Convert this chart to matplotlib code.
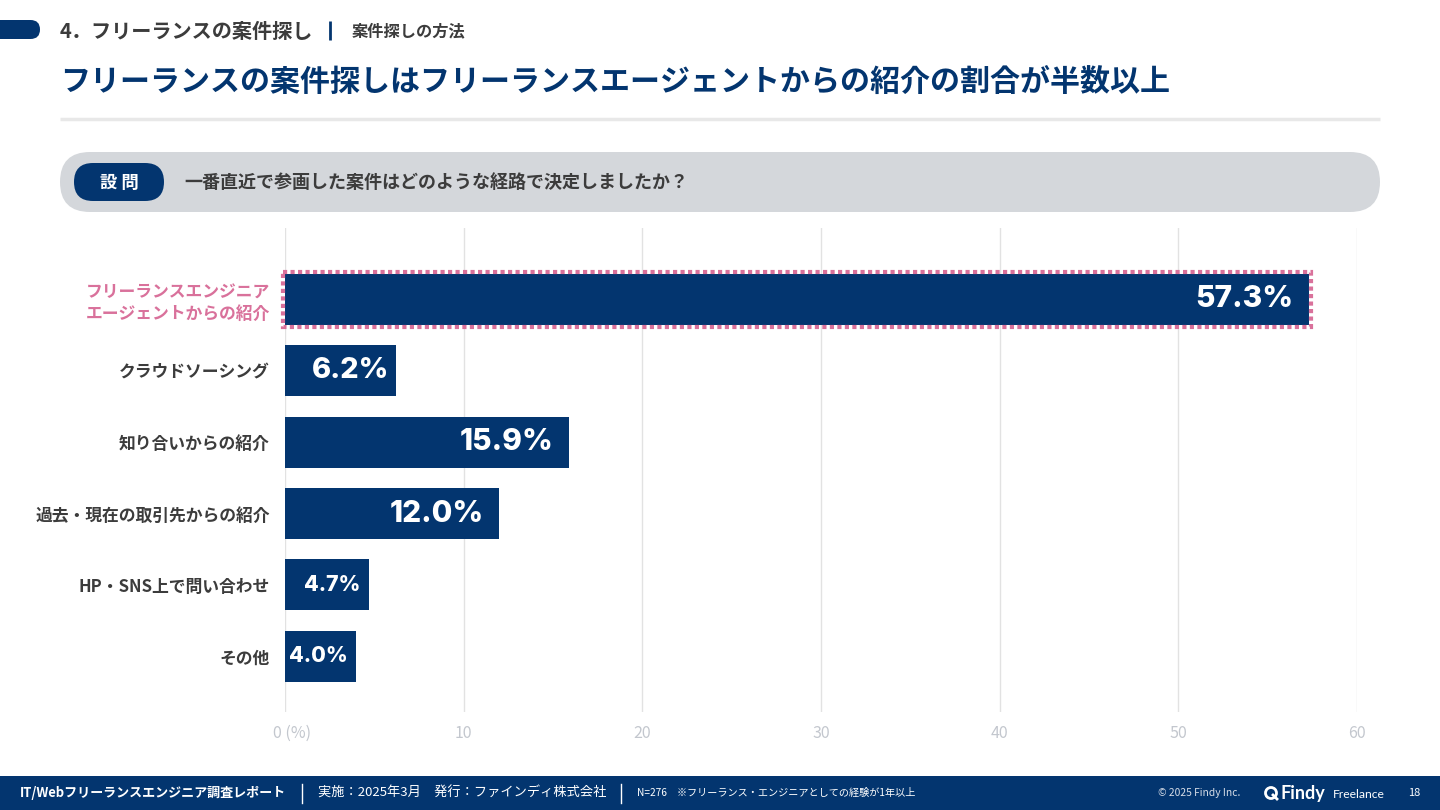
import matplotlib
matplotlib.use('Agg')
import matplotlib.pyplot as plt
import matplotlib.transforms as mtransforms
from matplotlib.patches import FancyBboxPatch, Rectangle, Circle

# ---------------- data ----------------
categories = ['フリーランスエンジニア\nエージェントからの紹介', 'クラウドソーシング', '知り合いからの紹介',
              '過去・現在の取引先からの紹介', 'HP・SNS上で問い合わせ', 'その他']
values = [57.3, 6.2, 15.9, 12.0, 4.7, 4.0]
value_labels = ['57.3%', '6.2%', '15.9%', '12.0%', '4.7%', '4.0%']
xticks = [0, 10, 20, 30, 40, 50, 60]
xtick_labels = ['0 (%)', '10', '20', '30', '40', '50', '60']
highlight_index = 0

section_text = '4．フリーランスの案件探し'
subsection_text = '案件探しの方法'
title_text = 'フリーランスの案件探しはフリーランスエージェントからの紹介の割合が半数以上'
question_tag = '設 問'
question_text = '一番直近で参画した案件はどのような経路で決定しましたか？'
footer_report = 'IT/Webフリーランスエンジニア調査レポート'
footer_info = '実施：2025年3月　発行：ファインディ株式会社'
footer_note = 'N=276　※フリーランス・エンジニアとしての経験が1年以上'
footer_copy = '© 2025 Findy Inc.'
page_no = '18'

# ---------------- style ----------------
NAVY = '#03356F'
PINK = '#D9719B'
DARK = '#3C3C3C'
plt.rcParams['font.family'] = ['Noto Sans CJK JP', 'DejaVu Sans']
W, H = 1440, 810
fig = plt.figure(figsize=(W / 100, H / 100), dpi=100)
fig.patch.set_facecolor('white')

# overlay in pixel coordinates
bg = fig.add_axes([0, 0, 1, 1], zorder=0)
bg.set_xlim(0, W)
bg.set_ylim(H, 0)
bg.axis('off')

# header
bg.add_patch(FancyBboxPatch((-30, 20), 70, 19, boxstyle='round,pad=0,rounding_size=9.5',
                            fc=NAVY, ec='none'))
bg.text(60, 31, section_text, fontsize=14.5, fontweight='bold', color=DARK, va='center', ha='left')
bg.plot([330, 330], [21, 40], color=NAVY, lw=2, solid_capstyle='butt')
bg.text(352, 31, subsection_text, fontsize=11.7, fontweight='bold', color=DARK, va='center', ha='left')

# title
bg.text(60, 82, title_text, fontsize=21.6, fontweight='bold', color=NAVY, va='center', ha='left')
bg.plot([60, 1380], [119, 119], color='#E8E8E8', lw=2.5, solid_capstyle='butt')

# question bar
bg.add_patch(FancyBboxPatch((60, 152), 1320, 60, boxstyle='round,pad=0,rounding_size=30',
                            fc='#D4D7DB', ec='none'))
bg.add_patch(FancyBboxPatch((74, 163), 90, 38, boxstyle='round,pad=0,rounding_size=19',
                            fc=NAVY, ec='none'))
bg.text(119, 183, question_tag, fontsize=12.5, fontweight='bold', color='white', va='center', ha='center')
bg.text(184, 183, question_text, fontsize=13, fontweight='bold', color=DARK, va='center', ha='left')

# footer
bg.add_patch(Rectangle((0, 776), W, 40, fc=NAVY, ec='none'))
bg.text(20, 793, footer_report, fontsize=9.4, fontweight='bold', color='white', va='center', ha='left')
bg.plot([302, 302], [784, 803], color='white', lw=1)
bg.text(318, 793, footer_info, fontsize=9.5, color='white', va='center', ha='left')
bg.plot([621, 621], [784, 803], color='white', lw=1)
bg.text(637, 793, footer_note, fontsize=7.3, color='white', va='center', ha='left')
bg.text(1158, 793, footer_copy, fontsize=7.4, color='#D8DEE8', va='center', ha='left')
bg.add_patch(Circle((1271, 793), 5.5, fc='none', ec='white', lw=2))
bg.plot([1273, 1277], [795, 799], color='white', lw=2)
bg.text(1281, 793, 'Findy', fontsize=13, fontweight='bold', color='white', va='center', ha='left',
        family=['Lato', 'DejaVu Sans'])
bg.text(1333, 795, 'Freelance', fontsize=8.7, color='white', va='center', ha='left',
        family=['Lato', 'DejaVu Sans'])
bg.text(1408, 793, page_no, fontsize=8, color='white', va='center', ha='left')

# ---------------- chart ----------------
x0, x1, ytop, ybot = 285, 1357, 228, 712
ax = fig.add_axes([x0 / W, 1 - ybot / H, (x1 - x0) / W, (ybot - ytop) / H], zorder=1)
ax.patch.set_alpha(0)
ypos = list(range(len(categories)))
bar_h = 0.715
ax.barh(ypos, values, height=bar_h, color=NAVY, zorder=3)
ax.set_xlim(0, 60)
ax.set_ylim(5.78, -1.0)
for s in ax.spines.values():
    s.set_visible(False)
ax.set_xticks(xticks)
ax.set_xticklabels(xtick_labels)
ax.xaxis.grid(True, color='#E2E2E2', lw=1, zorder=0)
ax.set_axisbelow(True)
ax.tick_params(axis='x', length=0, pad=9, labelsize=11.5, labelcolor='#C3C7CE')
ax.tick_params(axis='y', length=0, pad=11, labelsize=12.1, labelcolor=DARK)
ax.set_yticks(ypos)
ax.set_yticklabels(categories, fontweight='bold', linespacing=1.25)
ax.get_yticklabels()[highlight_index].set_color(PINK)

first = ax.get_xticklabels()[0]
first.set_horizontalalignment('left')
first.set_transform(first.get_transform() + mtransforms.ScaledTranslation(-12 / 100, 0, fig.dpi_scale_trans))

# highlight border (dotted, outside the bar)
px_x = 60 / (x1 - x0)          # data units per pixel (x)
px_y = 6.78 / (ybot - ytop)    # data units per pixel (y)
hv = values[highlight_index]
ax.add_patch(Rectangle((-2 * px_x, highlight_index - bar_h / 2 - 2 * px_y),
                       hv + 4 * px_x, bar_h + 4 * px_y,
                       fc='none', ec=PINK, lw=3, linestyle=(0, (1, 0.8)), zorder=4, clip_on=False))

# value labels
for i, (v, lab) in enumerate(zip(values, value_labels)):
    big = v >= 6
    pad = -11 if v >= 10 else (-4.5 if big else -6)
    ax.annotate(lab, xy=(v, i), xytext=(pad, 0), textcoords='offset points',
                ha='right', va='center', color='white', fontweight='heavy',
                fontsize=(21.5 if v >= 10 else 20.8) if big else 15.3,
                family=['Inter', 'Lato', 'DejaVu Sans'], zorder=5)

fig.savefig('out.png', dpi=100, facecolor='white')
